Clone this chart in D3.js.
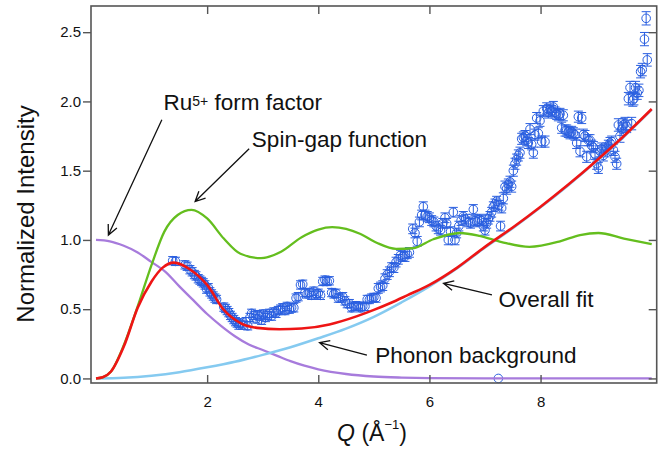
<!DOCTYPE html>
<html>
<head>
<meta charset="utf-8">
<script src="https://cdn.jsdelivr.net/npm/d3@7"></script>
<style>
body { margin: 0; background: #fff; }
text { font-family: "Liberation Sans", Arial, Helvetica, sans-serif; }
</style>
</head>
<body>
<div id="chart"></div>
<script>
// measured points: [Q, intensity, error]
const points = [
  [1.38,0.85,0.03],[1.43,0.845,0.03],[1.60,0.82,0.03],[1.64,0.81,0.03],[1.69,0.785,0.03],[1.73,0.77,0.03],
  [1.77,0.75,0.03],[1.80,0.74,0.03],[1.84,0.72,0.03],[1.87,0.71,0.03],[1.90,0.70,0.03],[1.93,0.69,0.03],
  [1.96,0.675,0.03],[1.99,0.645,0.03],[2.02,0.655,0.03],[2.05,0.625,0.03],[2.08,0.61,0.03],[2.11,0.595,0.03],
  [2.14,0.58,0.03],[2.17,0.57,0.03],[2.30,0.515,0.03],[2.33,0.505,0.03],[2.36,0.49,0.03],[2.39,0.475,0.03],
  [2.42,0.455,0.03],[2.45,0.44,0.03],[2.48,0.425,0.03],[2.51,0.41,0.03],[2.54,0.40,0.03],[2.57,0.385,0.03],
  [2.60,0.40,0.03],[2.64,0.385,0.03],[2.70,0.41,0.03],[2.73,0.38,0.03],[2.77,0.44,0.03],[2.80,0.47,0.03],
  [2.84,0.455,0.03],[2.88,0.43,0.03],[2.91,0.46,0.03],[2.95,0.45,0.03],[2.98,0.42,0.03],[3.01,0.465,0.03],
  [3.05,0.44,0.03],[3.08,0.455,0.03],[3.12,0.47,0.03],[3.16,0.45,0.03],[3.20,0.48,0.03],[3.24,0.47,0.03],
  [3.28,0.49,0.03],[3.32,0.50,0.03],[3.36,0.51,0.03],[3.40,0.49,0.03],[3.44,0.52,0.03],[3.48,0.50,0.03],
  [3.52,0.51,0.03],[3.56,0.51,0.03],[3.60,0.58,0.03],[3.64,0.59,0.03],[3.68,0.675,0.03],[3.72,0.68,0.03],
  [3.76,0.62,0.03],[3.80,0.61,0.03],[3.84,0.62,0.03],[3.88,0.60,0.03],[3.92,0.63,0.03],[3.96,0.61,0.03],
  [4.00,0.615,0.03],[4.04,0.60,0.03],[4.08,0.70,0.03],[4.12,0.71,0.03],[4.16,0.70,0.03],[4.20,0.705,0.03],
  [4.24,0.62,0.03],[4.28,0.61,0.03],[4.32,0.615,0.03],[4.36,0.58,0.03],[4.40,0.58,0.03],[4.44,0.59,0.03],
  [4.48,0.56,0.03],[4.52,0.54,0.03],[4.56,0.54,0.03],[4.60,0.51,0.03],[4.64,0.52,0.03],[4.68,0.525,0.03],
  [4.72,0.52,0.03],[4.76,0.51,0.03],[4.80,0.52,0.03],[4.84,0.52,0.03],[4.88,0.57,0.03],[4.92,0.57,0.03],
  [4.96,0.58,0.03],[5.00,0.585,0.03],[5.04,0.58,0.03],[5.08,0.65,0.035],[5.12,0.66,0.035],[5.16,0.67,0.035],
  [5.20,0.72,0.035],[5.24,0.75,0.035],[5.28,0.77,0.035],[5.32,0.80,0.035],[5.36,0.80,0.035],[5.40,0.84,0.035],
  [5.44,0.86,0.035],[5.48,0.89,0.035],[5.52,0.88,0.035],[5.56,0.88,0.035],[5.60,0.90,0.035],[5.64,0.91,0.035],
  [5.70,1.08,0.035],[5.74,1.05,0.035],[5.78,0.99,0.035],[5.82,1.13,0.035],[5.86,1.18,0.035],[5.89,1.24,0.035],
  [5.92,1.18,0.035],[5.96,1.17,0.035],[6.00,1.16,0.035],[6.04,1.14,0.035],[6.08,1.13,0.035],[6.12,1.10,0.035],
  [6.16,1.08,0.035],[6.20,1.07,0.035],[6.24,1.12,0.035],[6.28,1.16,0.035],[6.31,1.12,0.035],[6.34,1.00,0.035],
  [6.38,1.06,0.035],[6.43,1.20,0.035],[6.46,1.00,0.035],[6.49,1.05,0.035],[6.53,1.10,0.035],[6.57,1.14,0.035],
  [6.61,1.17,0.035],[6.65,1.15,0.035],[6.70,1.13,0.035],[6.74,1.12,0.035],[6.79,1.22,0.035],[6.82,1.14,0.035],
  [6.86,1.13,0.035],[6.90,1.15,0.035],[6.94,1.14,0.035],[6.97,1.10,0.035],[7.00,1.07,0.035],[7.03,1.12,0.035],
  [7.06,1.15,0.035],[7.09,1.17,0.035],[7.12,1.20,0.035],[7.15,1.24,0.035],[7.18,1.26,0.035],[7.21,1.28,0.035],
  [7.25,1.25,0.035],[7.28,1.10,0.035],[7.30,1.23,0.035],[7.33,1.30,0.04],[7.36,1.385,0.04],[7.39,1.37,0.04],
  [7.42,1.40,0.04],[7.45,1.42,0.04],[7.48,1.385,0.04],[7.51,1.50,0.04],[7.54,1.55,0.04],[7.57,1.58,0.04],
  [7.60,1.61,0.04],[7.63,1.63,0.04],[7.66,1.73,0.04],[7.69,1.74,0.04],[7.72,1.75,0.04],[7.75,1.72,0.04],
  [7.78,1.70,0.04],[7.81,1.80,0.04],[7.84,1.69,0.04],[7.87,1.63,0.04],[7.90,1.76,0.04],[7.93,1.88,0.04],
  [7.96,1.77,0.04],[7.99,1.86,0.04],[8.02,1.71,0.04],[8.05,1.93,0.04],[8.08,1.71,0.04],[8.11,1.95,0.04],
  [8.14,1.92,0.04],[8.17,1.94,0.04],[8.20,1.93,0.04],[8.23,1.96,0.04],[8.26,1.92,0.04],[8.29,1.91,0.04],
  [8.32,1.90,0.04],[8.35,1.91,0.04],[8.38,1.81,0.04],[8.41,1.90,0.04],[8.44,1.79,0.04],[8.47,1.79,0.04],
  [8.50,1.78,0.04],[8.53,1.77,0.04],[8.56,1.78,0.04],[8.59,1.77,0.04],[8.62,1.76,0.04],[8.65,1.70,0.04],
  [8.68,1.89,0.04],[8.71,1.64,0.04],[8.74,1.88,0.04],[8.77,1.76,0.04],[8.80,1.75,0.04],[8.83,1.60,0.04],
  [8.86,1.72,0.04],[8.89,1.72,0.04],[8.92,1.68,0.04],[8.95,1.67,0.04],[8.98,1.62,0.04],[9.01,1.55,0.04],
  [9.04,1.52,0.04],[9.07,1.64,0.04],[9.10,1.66,0.04],[9.13,1.61,0.04],[9.16,1.64,0.04],[9.19,1.66,0.04],
  [9.22,1.68,0.04],[9.25,1.70,0.04],[9.28,1.71,0.04],[9.31,1.65,0.04],[9.34,1.60,0.04],[9.37,1.55,0.04],
  [9.40,1.83,0.045],[9.43,1.75,0.045],[9.46,1.80,0.045],[9.49,1.83,0.045],[9.52,1.84,0.045],[9.55,1.82,0.045],
  [9.58,2.02,0.045],[9.61,2.10,0.045],[9.64,1.84,0.045],[9.66,2.01,0.045],[9.68,2.02,0.045],[9.71,2.10,0.045],
  [9.74,2.06,0.045],[9.77,2.08,0.045],[9.80,2.215,0.045],[9.83,2.23,0.045],[9.87,2.45,0.048],[9.90,2.60,0.048],
  [9.92,2.30,0.045],
  [7.24,0.0,0]
];

// fitted curves [Q, value]
const formFactor = [[0,1.0],[0.25,0.99],[0.5,0.958],[0.75,0.91],[1.0,0.84],[1.25,0.77],[1.5,0.665],[1.75,0.565],
  [2.0,0.465],[2.25,0.38],[2.5,0.305],[2.75,0.245],[3.0,0.205],[3.25,0.165],[3.5,0.125],[3.75,0.092],[4.0,0.066],
  [4.5,0.032],[5.0,0.014],[5.5,0.006],[6.0,0.002],[7.0,0.0],[8.0,0.0],[9.0,0.0],[10.0,0.0]];
const phonon = [[0,0],[0.5,0.005],[1.0,0.02],[1.5,0.045],[2.0,0.08],[2.5,0.12],[3.0,0.17],[3.5,0.225],[4.0,0.29],
  [4.5,0.36],[5.0,0.445],[5.5,0.55],[6.0,0.665],[6.5,0.795],[7.0,0.945],[7.5,1.085],[8.0,1.235],[8.5,1.395],
  [9.0,1.565],[9.5,1.745],[10.0,1.94]];
const spinGap = [[0,0],[0.12,0.008],[0.27,0.05],[0.5,0.24],[0.75,0.52],[1.0,0.82],[1.23,1.06],[1.47,1.18],
  [1.72,1.217],[2.0,1.155],[2.3,1.01],[2.6,0.90],[2.97,0.868],[3.33,0.915],[3.7,1.02],[4.0,1.075],[4.25,1.092],
  [4.5,1.08],[4.75,1.045],[5.05,0.98],[5.4,0.935],[5.7,0.94],[6.07,1.005],[6.55,1.05],[6.9,1.03],[7.3,0.985],
  [7.8,0.95],[8.35,0.99],[8.71,1.035],[9.04,1.05],[9.5,1.01],[10.0,0.97]];
const overallFit = [[0,0],[0.12,0.008],[0.27,0.05],[0.5,0.23],[0.75,0.51],[1.0,0.70],[1.2,0.80],[1.4,0.836],
  [1.7,0.785],[2.0,0.675],[2.3,0.495],[2.6,0.40],[2.9,0.365],[3.3,0.355],[3.7,0.36],[4.2,0.39],[4.7,0.45],
  [5.0,0.495],[5.3,0.545],[5.6,0.60],[6.0,0.675],[6.5,0.80],[7.0,0.95],[7.5,1.09],[8.0,1.24],[8.5,1.40],
  [9.0,1.57],[9.5,1.75],[10.0,1.945]];

const xTicks = [2, 4, 6, 8];
const yTicks = [0, 0.5, 1.0, 1.5, 2.0, 2.5];

// annotations: label start and arrow (tail -> tip), in data units
const notes = [
  {main: "Ru", sup: "5+", rest: " form factor", at: [1.213, 1.939], from: [1.185, 1.867], to: [0.223, 1.035]},
  {main: "Spin-gap function", at: [2.805, 1.674], from: [2.756, 1.658], to: [1.784, 1.277]},
  {main: "Overall fit", at: [7.244, 0.518], from: [7.125, 0.603], to: [6.254, 0.687]},
  {main: "Phonon background", at: [5.024, 0.109], from: [4.875, 0.169], to: [4.022, 0.258]}
];

const width = 669, height = 450;
const plot = {left: 91, right: 656.7, top: 6, bottom: 383};

const svg = d3.select("#chart").append("svg")
  .attr("width", width).attr("height", height);

const x = d3.scaleLinear().domain([-0.09, 10.09]).range([plot.left, plot.right]);
const y = d3.scaleLinear().domain([-0.033, 2.689]).range([plot.bottom, plot.top]);

// data with error bars
const dataG = svg.append("g");
const blue = "#2a5fe0";
const cap = 4.5;
points.forEach(([q, v, e]) => {
  const cx = x(q), cy = y(v);
  if (e > 0) {
    const y0 = y(v - e), y1 = y(v + e);
    dataG.append("path")
      .attr("d", `M${cx},${y0}V${y1}M${cx - cap},${y0}H${cx + cap}M${cx - cap},${y1}H${cx + cap}`)
      .attr("stroke", blue).attr("stroke-width", 1).attr("fill", "none");
  }
  dataG.append("circle")
    .attr("cx", cx).attr("cy", cy).attr("r", 4.3)
    .attr("fill", "none").attr("stroke", blue).attr("stroke-width", 1);
});

// curves
const line = d3.line().x(d => x(d[0])).y(d => y(d[1])).curve(d3.curveMonotoneX);
const curves = [
  {data: formFactor, color: "#a77bdc", w: 2.3},
  {data: phonon, color: "#85caf0", w: 2.5},
  {data: spinGap, color: "#64be1e", w: 2.3},
  {data: overallFit, color: "#ee1515", w: 2.6}
];
curves.forEach(c => {
  svg.append("path").attr("d", line(c.data))
    .attr("fill", "none").attr("stroke", c.color).attr("stroke-width", c.w);
});

// axes
const axisColor = "#555";
function styleAxis(g) {
  g.select(".domain").remove();
  g.selectAll("line").attr("stroke", axisColor).attr("stroke-width", 1.4);
  g.selectAll("text").attr("fill", "#111").style("font-size", "15px")
    .style("font-family", '"Liberation Sans", Arial, sans-serif');
}
svg.append("g").attr("transform", `translate(${plot.left},0)`)
  .call(d3.axisLeft(y).tickValues(yTicks).tickFormat(d3.format(".1f")).tickSize(8).tickPadding(2))
  .call(styleAxis);
svg.append("g").attr("transform", `translate(${plot.right},0)`)
  .call(d3.axisRight(y).tickValues(yTicks).tickSize(-8).tickFormat(""))
  .call(styleAxis);
svg.append("g").attr("transform", `translate(0,${plot.bottom})`)
  .call(d3.axisBottom(x).tickValues(xTicks).tickSize(-8).tickPadding(13))
  .call(styleAxis);
svg.append("g").attr("transform", `translate(0,${plot.top})`)
  .call(d3.axisTop(x).tickValues(xTicks).tickSize(-8).tickFormat(""))
  .call(styleAxis);

svg.append("rect")
  .attr("x", plot.left).attr("y", plot.top)
  .attr("width", plot.right - plot.left).attr("height", plot.bottom - plot.top)
  .attr("fill", "none").attr("stroke", axisColor).attr("stroke-width", 1.6);

// axis titles
svg.append("text")
  .attr("transform", "translate(34,214) rotate(-90)")
  .attr("text-anchor", "middle").style("font-size", "24px").attr("fill", "#111")
  .text("Normalized Intensity");

const xt = svg.append("text")
  .attr("x", 372).attr("y", 441).attr("text-anchor", "middle")
  .style("font-size", "23px").attr("fill", "#111");
xt.append("tspan").style("font-style", "italic").text("Q");
xt.append("tspan").text(" (Å");
xt.append("tspan").attr("dy", -12).style("font-size", "13px").text("\u22121");
xt.append("tspan").attr("dy", 12).text(")");

// annotations
function arrow(from, to) {
  const x0 = x(from[0]), y0 = y(from[1]), x1 = x(to[0]), y1 = y(to[1]);
  const a = Math.atan2(y1 - y0, x1 - x0), len = 11, spread = 0.45;
  const w1 = [x1 - len * Math.cos(a - spread), y1 - len * Math.sin(a - spread)];
  const w2 = [x1 - len * Math.cos(a + spread), y1 - len * Math.sin(a + spread)];
  svg.append("path")
    .attr("d", `M${x0},${y0}L${x1},${y1}M${w1[0]},${w1[1]}L${x1},${y1}L${w2[0]},${w2[1]}`)
    .attr("fill", "none").attr("stroke", "#111").attr("stroke-width", 1.3);
}
notes.forEach(n => {
  const t = svg.append("text")
    .attr("x", x(n.at[0])).attr("y", y(n.at[1]))
    .style("font-size", "22.5px").attr("fill", "#111");
  t.append("tspan").text(n.main);
  if (n.sup) {
    t.append("tspan").attr("dy", -4).style("font-size", "14px").text(n.sup);
    t.append("tspan").attr("dy", 4).text(n.rest);
  }
  arrow(n.from, n.to);
});
</script>
</body>
</html>
